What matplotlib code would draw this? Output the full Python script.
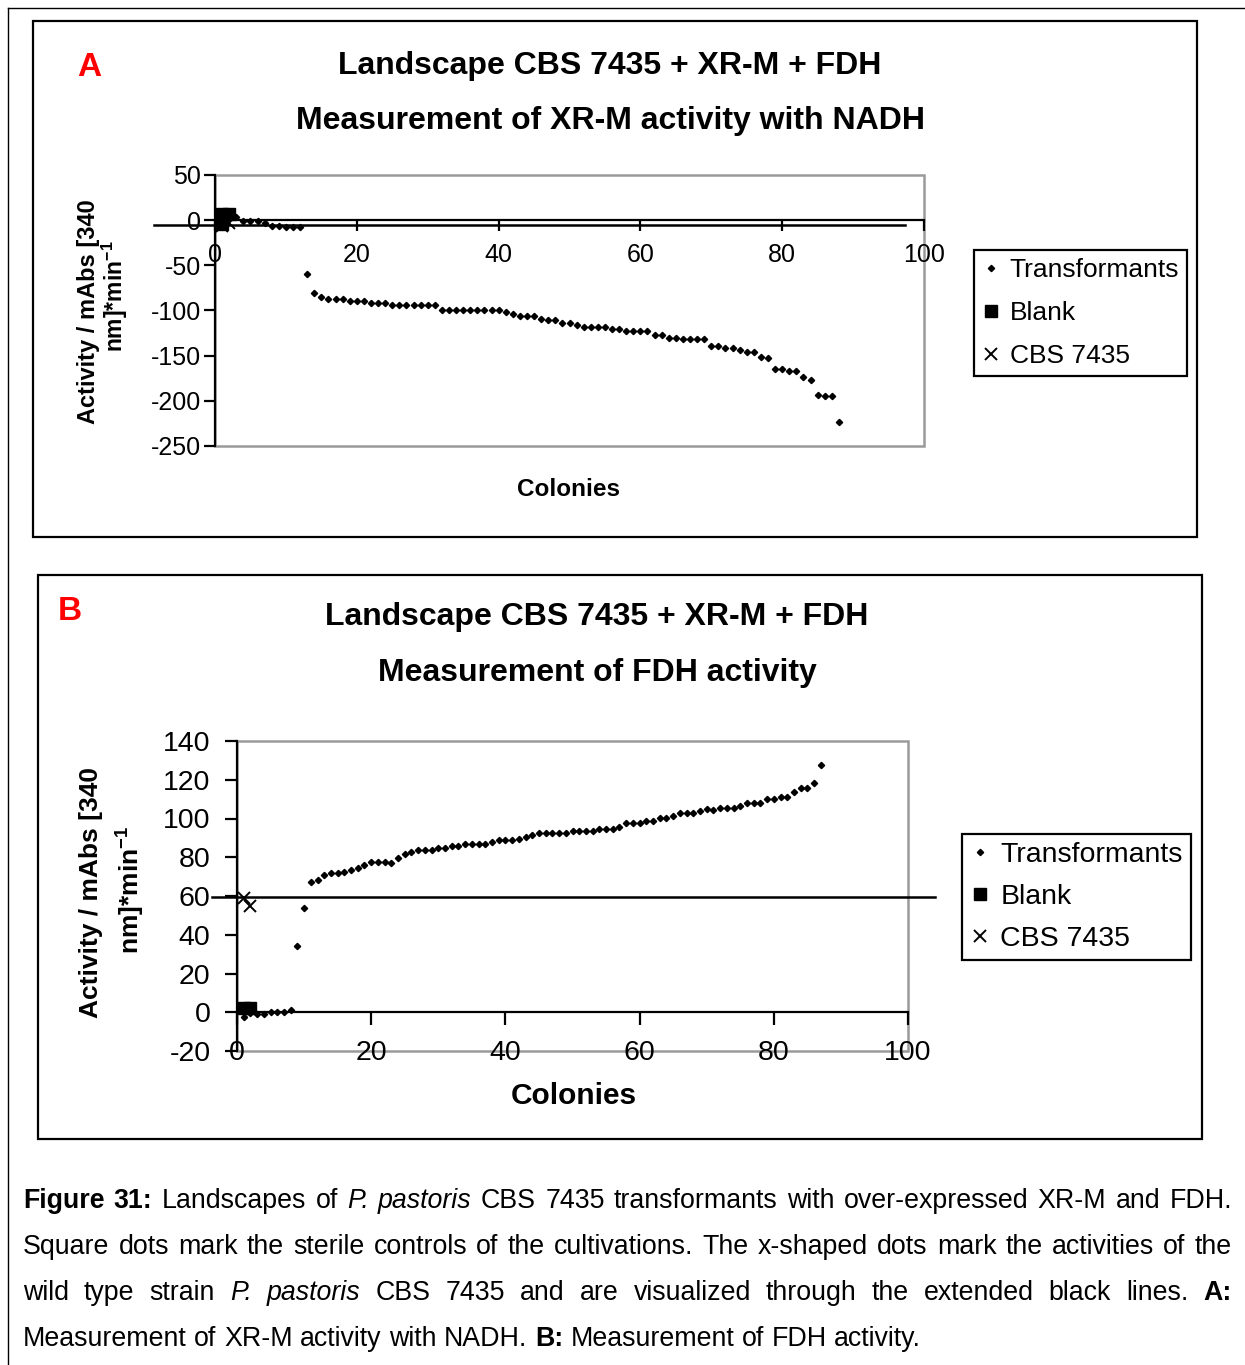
import numpy as np
import matplotlib
matplotlib.use('Agg')
import matplotlib.pyplot as plt
from matplotlib.patches import Rectangle
from matplotlib.lines import Line2D

plt.rcParams['font.family'] = ['Liberation Sans', 'DejaVu Sans']
plt.rcParams['axes.unicode_minus'] = False
plt.rcParams['mathtext.fontset'] = 'custom'
plt.rcParams['mathtext.rm'] = 'Liberation Sans:bold'
plt.rcParams['mathtext.it'] = 'Liberation Sans:bold'
plt.rcParams['mathtext.bf'] = 'Liberation Sans:bold'

# ---- data ----
# A: XR-M activity with NADH (88 transformants, sorted)
xrm_transformants = [-2, 3, 4, -1, -1, -1, -3, -6, -6, -8, -8, -8,
                     -60, -81, -85, -87, -87, -87, -90, -90, -90, -92, -92, -92,
                     -94, -94, -94, -94, -94, -94, -94,
                     -99, -99, -99, -99, -99, -99, -99, -99, -100,
                     -102, -104, -106, -106, -106, -109, -111, -111,
                     -113.5, -113.5, -116, -118, -118, -118, -118, -121, -121,
                     -123, -123, -123, -123, -127.5, -127.5, -130, -130,
                     -132, -132, -132, -132, -139, -139, -142, -142, -144, -146, -146,
                     -151, -153, -165, -165, -167, -167, -174, -177, -193, -195, -195, -223]
xrm_blank_x = [1, 1, 2]
xrm_blank = [-4, 7, 7]
xrm_cbs_x = [1, 2]
xrm_cbs = [-6, -3]
xrm_cbs_level = -4.8
xrm_cbs_span = [-8.6, 97.3]

# B: FDH activity (87 transformants, sorted)
fdh_transformants = [-2.3, -0.5, -1, -1, 0, 0, 0, 1, 34, 54,
                     67.4, 68.4, 70.6, 71.7, 71.7, 72.5, 73.6, 74.6, 75.8, 77.7,
                     77.7, 77.7, 77.2, 79.8, 81.9, 82.9, 83.9, 83.9, 83.9, 85.0,
                     85.0, 86.0, 86.0, 87.0, 87.0, 87.0, 87.0, 87.9, 88.8, 88.8,
                     88.8, 89.5, 90.2, 91.3, 92.4, 92.4, 92.4, 92.4, 92.4, 93.6,
                     93.6, 93.6, 93.6, 94.5, 94.5, 94.5, 95.5, 97.9, 97.6, 97.6,
                     98.8, 98.8, 100.5, 100.5, 101.3, 102.6, 102.6, 102.6, 103.9, 104.8,
                     104.5, 105.5, 105.5, 105.5, 106.5, 107.9, 107.9, 107.9, 110.0, 110.0,
                     110.9, 110.9, 113.8, 116.0, 116.0, 118.3, 127.6]
fdh_blank_x = [1, 2]
fdh_blank = [2, 2]
fdh_cbs_x = [1, 2]
fdh_cbs = [59, 55]
fdh_cbs_level = 59.5
fdh_cbs_span = [-3.8, 104]

series_labels = ['Transformants', 'Blank', 'CBS 7435']

W, H = 1245, 1365


def fx(px):
    return px / W


def fy(py):
    return 1 - py / H


fig = plt.figure(figsize=(W / 100, H / 100), dpi=100)

# outer page frame (top and left)
fig.add_artist(Line2D([fx(8), fx(1245)], [fy(8), fy(8)], color='black', lw=1))
fig.add_artist(Line2D([fx(8), fx(8)], [fy(8), fy(1365)], color='black', lw=1))


def panel_box(x0, y0, x1, y1):
    fig.add_artist(Rectangle((fx(x0), fy(y1)), fx(x1) - fx(x0), fy(y0) - fy(y1),
                             transform=fig.transFigure, fill=False,
                             edgecolor='black', lw=1.6))


def make_panel(rect, trans, bx, bv, cx, cv, level, span, ylim, ystep, fs, xpad, ypad, tick_len):
    x0, y0, x1, y1 = rect
    ax = fig.add_axes([fx(x0), fy(y1), fx(x1) - fx(x0), fy(y0) - fy(y1)])
    colonies = np.arange(1, len(trans) + 1)
    h1, = ax.plot(colonies, trans, linestyle='none', marker='D', ms=3.2,
                  color='black', clip_on=False, zorder=4)
    h2, = ax.plot(bx, bv, linestyle='none', marker='s', ms=8,
                  color='black', clip_on=False, zorder=5)
    h3, = ax.plot(cx, cv, linestyle='none', marker='x', ms=8, mew=1.4,
                  color='black', clip_on=False, zorder=5)
    ax.plot(span, [level, level], color='black', lw=1.8, clip_on=False, zorder=3)

    ax.set_xlim(0, 100)
    ax.set_ylim(*ylim)
    ax.set_xticks(range(0, 101, 20))
    ax.set_yticks(range(ylim[0], ylim[1] + 1, ystep))
    ax.spines['top'].set_visible(False)
    ax.spines['right'].set_visible(False)
    ax.spines['bottom'].set_position(('data', 0))
    for s in ('left', 'bottom'):
        ax.spines[s].set_linewidth(1.6)
        ax.spines[s].set_color('black')
    ax.add_patch(Rectangle((0, 0), 1, 1, transform=ax.transAxes, fill=False,
                           edgecolor='#9a9a9a', lw=1.8, zorder=0, clip_on=False))
    ax.tick_params(axis='x', direction='out', length=tick_len, width=1.6,
                   pad=xpad, labelsize=fs)
    ax.tick_params(axis='y', direction='out', length=tick_len, width=1.6,
                   pad=ypad, labelsize=fs)
    return ax, [h1, h2, h3]


def legend(ax, handles, center, fs, spacing):
    leg = ax.legend(handles, series_labels, loc='center',
                    bbox_to_anchor=(fx(center[0]), fy(center[1])),
                    bbox_transform=fig.transFigure, fontsize=fs,
                    frameon=True, fancybox=False, framealpha=1,
                    edgecolor='black', handlelength=0.7, handletextpad=0.35,
                    labelspacing=spacing, borderpad=0.3, borderaxespad=0)
    leg.get_frame().set_linewidth(1.6)


# ---- panel A ----
panel_box(33, 21, 1197, 537)
fig.text(fx(89), fy(68), 'A', color='#ff0000', fontsize=24, fontweight='bold',
         ha='center', va='center')
fig.text(fx(610), fy(66), 'Landscape CBS 7435 + XR-M + FDH', fontsize=23,
         fontweight='bold', ha='center', va='center')
fig.text(fx(610), fy(121), 'Measurement of XR-M activity with NADH', fontsize=23,
         fontweight='bold', ha='center', va='center')
axA, hA = make_panel((215, 175, 924, 446), xrm_transformants, xrm_blank_x, xrm_blank,
                     xrm_cbs_x, xrm_cbs, xrm_cbs_level, xrm_cbs_span,
                     (-250, 50), 50, 18, 8.5, 2, 8)
legend(axA, hA, (1080.5, 313), 19, 0.72)
fig.text(fx(89), fy(312), 'Activity / mAbs [340', rotation=90, fontsize=17,
         fontweight='bold', ha='center', va='center')
fig.text(fx(115), fy(296), r'nm]*min$^{-1}$', rotation=90, fontsize=16.5,
         fontweight='bold', ha='center', va='center')
fig.text(fx(568), fy(489), 'Colonies', fontsize=17.5, fontweight='bold',
         ha='center', va='center')

# ---- panel B ----
panel_box(38, 575, 1202, 1139)
fig.text(fx(70), fy(612), 'B', color='#ff0000', fontsize=24, fontweight='bold',
         ha='center', va='center')
fig.text(fx(597), fy(617), 'Landscape CBS 7435 + XR-M + FDH', fontsize=23,
         fontweight='bold', ha='center', va='center')
fig.text(fx(597), fy(673), 'Measurement of FDH activity', fontsize=23,
         fontweight='bold', ha='center', va='center')
axB, hB = make_panel((237, 741, 908, 1051), fdh_transformants, fdh_blank_x, fdh_blank,
                     fdh_cbs_x, fdh_cbs, fdh_cbs_level, fdh_cbs_span,
                     (-20, 140), 20, 20.5, 11, 10, 9)
legend(axB, hB, (1076.5, 897), 20.5, 0.56)
fig.text(fx(91), fy(892), 'Activity / mAbs [340', rotation=90, fontsize=19,
         fontweight='bold', ha='center', va='center')
fig.text(fx(131), fy(890), r'nm]*min$^{-1}$', rotation=90, fontsize=19,
         fontweight='bold', ha='center', va='center')
fig.text(fx(574), fy(1096), 'Colonies', fontsize=21.5, fontweight='bold',
         ha='center', va='center')

# ---- caption, justified ----
caption = [
    ([('Figure 31:', 'b'), (' Landscapes of ', 'n'), ('P. pastoris', 'i'),
      (' CBS 7435 transformants with over-expressed XR-M and FDH.', 'n')], 1201, True),
    ([('Square dots mark the sterile controls of the cultivations. The x-shaped dots '
       'mark the activities of the', 'n')], 1247, True),
    ([('wild type strain ', 'n'), ('P. pastoris', 'i'),
      (' CBS 7435 and are visualized through the extended black lines. ', 'n'),
      ('A:', 'b')], 1293, True),
    ([('Measurement of XR-M activity with NADH. ', 'n'), ('B:', 'b'),
      (' Measurement of FDH activity.', 'n')], 1339, False),
]
renderer = fig.canvas.get_renderer()
cap_fs = 19.3
left, right = 23, 1232
for segments, ypos, justify in caption:
    items = []
    for text, style in segments:
        for word in text.split():
            t = fig.text(0, fy(ypos), word, fontsize=cap_fs, va='center', ha='left',
                         fontweight='bold' if style == 'b' else 'normal',
                         fontstyle='italic' if style == 'i' else 'normal')
            items.append(t)
    widths = [t.get_window_extent(renderer).width for t in items]
    if justify:
        gap = (right - left - sum(widths)) / (len(items) - 1)
    else:
        gap = 0.278 * cap_fs * 100 / 72
    xpos = left
    for t, w in zip(items, widths):
        t.set_x(fx(xpos))
        xpos += w + gap

fig.savefig('out.png', dpi=100)
